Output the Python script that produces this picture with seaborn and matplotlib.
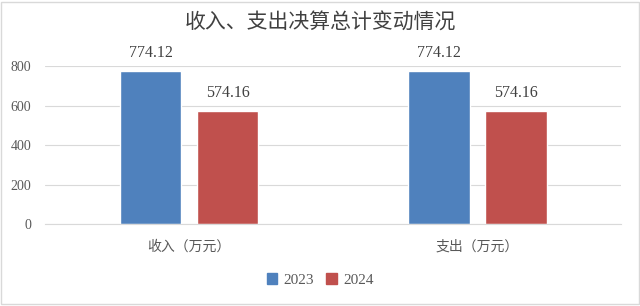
import matplotlib
matplotlib.use("Agg")
import matplotlib.pyplot as plt
import seaborn as sns
import pandas as pd
from matplotlib.patches import Rectangle, Patch

categories = ["收入（万元）", "支出（万元）"]
years = ["2023", "2024"]
values_2023 = [774.12, 774.12]
values_2024 = [574.16, 574.16]
yticks = [0, 200, 400, 600, 800]

df = pd.DataFrame({
    "cat": categories * 2,
    "year": [years[0]] * 2 + [years[1]] * 2,
    "val": values_2023 + values_2024,
})

sns.set_theme(style="white")
plt.rcParams['font.family'] = ['Noto Sans CJK SC', 'DejaVu Sans']

colors = {"2023": "#4F81BD", "2024": "#C0504D"}
fig = plt.figure(figsize=(6.4, 3.06), dpi=100)
ax = fig.add_axes([0.0703, 0.268, 0.9007, 0.516])
sns.barplot(data=df, x="cat", y="val", hue="year", palette=colors,
            width=0.535, gap=0.2, ax=ax, legend=False, saturation=1)

ax.set_ylim(0, 800)
ax.set_xlim(-0.5, 1.5)
ax.set_yticks(yticks)
ax.set_yticklabels([str(t) for t in yticks], family="Liberation Serif",
                   fontsize=10, color="#595959")
ax.tick_params(axis="y", length=0, pad=10)
ax.tick_params(axis="x", length=0, pad=11)
for lbl in ax.get_xticklabels():
    lbl.set_fontsize(10)
    lbl.set_color("#595959")
ax.set_xlabel("")
ax.set_ylabel("")
ax.grid(axis="y", color="#D9D9D9", linewidth=0.8)
ax.set_axisbelow(True)
for s in ["top", "right", "left"]:
    ax.spines[s].set_visible(False)
ax.spines["bottom"].set_color("#D9D9D9")
ax.spines["bottom"].set_linewidth(0.8)

for cont in ax.containers:
    ax.bar_label(cont, labels=[f"{v:.2f}" for v in cont.datavalues],
                 padding=7, family="Liberation Serif", fontsize=11.5,
                 color="#404040")

fig.text(0.5, 0.925, "收入、支出决算总计变动情况", ha="center", va="center",
         fontsize=15, color="#404040")

handles = [Patch(color=colors[y], label=y) for y in years]
leg = fig.legend(handles=handles, loc="center", bbox_to_anchor=(0.5, 0.086),
                 ncol=2, frameon=False, handlelength=0.7, handleheight=0.7,
                 handletextpad=0.4, columnspacing=0.8,
                 prop={"family": "Liberation Serif", "size": 11})
for t in leg.get_texts():
    t.set_color("#595959")

fig.patches.append(Rectangle((0.002, 0.008), 0.996, 0.984, transform=fig.transFigure,
                             fill=False, edgecolor="#D9D9D9", linewidth=1))

fig.savefig("out.png", dpi=100)
